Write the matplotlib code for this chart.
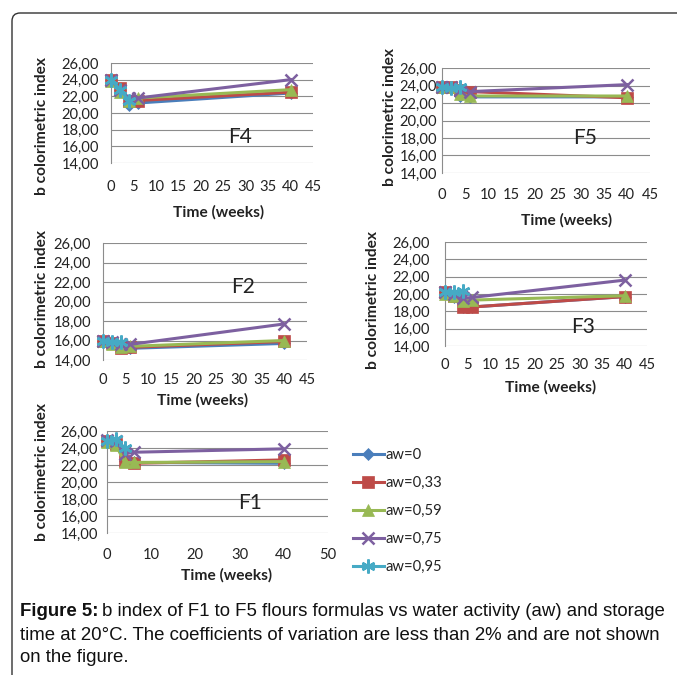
import matplotlib
matplotlib.use('Agg')
import matplotlib.pyplot as plt
from matplotlib.patches import FancyBboxPatch
from matplotlib.ticker import FuncFormatter, MultipleLocator

W, H = 677, 675

# storage time (weeks); aw=0,95 samples were only measured up to week 4
weeks = [0, 2, 4, 6, 40]
weeks_095 = [0, 2, 4]
aw_labels = ['aw=0', 'aw=0,33', 'aw=0,59', 'aw=0,75', 'aw=0,95']

f1_aw0 = [24.8, 24.6, 22.5, 22.3, 22.2]
f1_aw033 = [24.8, 24.5, 22.5, 22.2, 22.6]
f1_aw059 = [24.7, 24.4, 22.3, 22.3, 22.4]
f1_aw075 = [24.9, 24.8, 23.3, 23.5, 23.9]
f1_aw095 = [24.8, 25.1, 24.0]

f2_aw0 = [16.0, 15.7, 15.3, 15.2, 15.7]
f2_aw033 = [16.0, 15.7, 15.2, 15.3, 15.9]
f2_aw059 = [15.9, 15.6, 15.3, 15.4, 16.0]
f2_aw075 = [16.0, 15.8, 15.6, 15.6, 17.7]
f2_aw095 = [16.0, 15.8, 15.8]

f3_aw0 = [20.2, 19.6, 18.5, 18.5, 19.7]
f3_aw033 = [20.2, 19.8, 18.5, 18.5, 19.7]
f3_aw059 = [20.0, 19.8, 19.2, 19.3, 19.8]
f3_aw075 = [20.2, 20.0, 19.5, 19.6, 21.6]
f3_aw095 = [20.2, 20.2, 20.4]

f4_aw0 = [24.0, 22.8, 21.0, 21.2, 22.4]
f4_aw033 = [24.0, 23.0, 21.5, 21.5, 22.5]
f4_aw059 = [23.8, 22.5, 21.5, 21.8, 22.8]
f4_aw075 = [24.0, 22.8, 21.8, 21.8, 24.0]
f4_aw095 = [24.0, 22.8, 21.5]

f5_aw0 = [23.8, 23.8, 22.8, 22.7, 22.7]
f5_aw033 = [23.8, 23.8, 23.5, 23.3, 22.6]
f5_aw059 = [23.8, 23.8, 23.0, 22.8, 22.8]
f5_aw075 = [23.8, 23.8, 23.5, 23.3, 24.1]
f5_aw095 = [23.8, 23.7, 23.8]

colors = ['#4A7EBB', '#BE4B48', '#98B954', '#7D60A0', '#46AAC5']
markers = ['D', 's', '^', 'x', (6, 2, 0)]
msizes = [6, 8, 9, 9, 10]

plt.rcParams['font.family'] = 'Lato'

fig = plt.figure(figsize=(W / 100, H / 100), dpi=100)


def px_box(l, r, t, b):
    return [l / W, 1 - b / H, (r - l) / W, (b - t) / H]


def ftext(x, y, s, **kw):
    return fig.text(x / W, 1 - y / H, s, **kw)


comma = FuncFormatter(lambda v, p: ('%.2f' % v).replace('.', ','))
TICK_FS = 10.6
LAB_FS = 11.2


def panel(box, series, name, name_xy, xmax, xstep, xpad, ypad, xlab_xy, ylab_xy):
    ax = fig.add_axes(px_box(*box))
    for i, ys in enumerate(series):
        xs = weeks_095 if i == 4 else weeks
        ax.plot(xs, ys, color=colors[i], lw=2.2, marker=markers[i],
                ms=msizes[i], mew=1.8 if i >= 3 else 0.5, mec=colors[i],
                clip_on=False, zorder=3 + i, label=aw_labels[i])
    ax.set_xlim(0, xmax)
    ax.set_ylim(14, 26)
    ax.xaxis.set_major_locator(MultipleLocator(xstep))
    ax.yaxis.set_major_locator(MultipleLocator(2))
    ax.yaxis.set_major_formatter(comma)
    ax.grid(axis='y', color='#8c8c8c', lw=0.8)
    ax.set_axisbelow(True)
    for s in ['top', 'right', 'bottom']:
        ax.spines[s].set_visible(False)
    ax.spines['left'].set_color('#8c8c8c')
    ax.spines['left'].set_linewidth(0.8)
    ax.tick_params(axis='x', length=0, pad=xpad * 0.72, labelsize=TICK_FS, colors='#222222')
    ax.tick_params(axis='y', length=0, pad=ypad * 0.72, labelsize=TICK_FS, colors='#222222')
    ax.patch.set_alpha(0)
    ftext(name_xy[0], name_xy[1], name, fontsize=15, ha='center', va='center', color='#222222')
    ftext(xlab_xy[0], xlab_xy[1], 'Time (weeks)', fontsize=LAB_FS, weight='bold',
          ha='center', va='center', color='#222222')
    ftext(ylab_xy[0], ylab_xy[1], 'b colorimetric index', fontsize=LAB_FS, weight='bold',
          rotation=90, ha='center', va='center', color='#222222')
    return ax


panel((111, 313, 63, 163), [f4_aw0, f4_aw033, f4_aw059, f4_aw075, f4_aw095],
      'F4', (240, 137), 45, 5, 17, 12, (219, 212), (42, 126))
panel((442, 650, 68, 173), [f5_aw0, f5_aw033, f5_aw059, f5_aw075, f5_aw095],
      'F5', (585, 138), 45, 5, 15, 5, (567, 220), (390, 117))
panel((103, 307, 243, 360), [f2_aw0, f2_aw033, f2_aw059, f2_aw075, f2_aw095],
      'F2', (243, 287), 45, 5, 13, 12, (203, 400), (42, 299))
panel((445, 647, 242, 346), [f3_aw0, f3_aw033, f3_aw059, f3_aw075, f3_aw095],
      'F3', (583, 327), 45, 5, 12, 15, (551, 387), (373, 300))
ax1 = panel((107, 328, 431, 533), [f1_aw0, f1_aw033, f1_aw059, f1_aw075, f1_aw095],
            'F1', (250, 503), 50, 10, 15, 9, (227, 575), (42, 472))

handles, labs = ax1.get_legend_handles_labels()
fig.legend(handles, labs, loc='upper left', bbox_to_anchor=(353 / W, 1 - 448 / H),
           frameon=False, fontsize=TICK_FS, handlelength=2.1, handletextpad=0.1,
           labelspacing=0.95, borderpad=0, borderaxespad=0, markerscale=1.0,
           labelcolor='#222222')

# figure frame with the rounded top-left corner
frame = FancyBboxPatch((12 / W, -0.1), 1.2, (675 - 13) / H + 0.1,
                       boxstyle='round,pad=0,rounding_size=0.012',
                       transform=fig.transFigure, fill=False, ec='#333333', lw=1.0)
fig.patches.append(frame)

cap_kw = dict(fontsize=13.4, family='Liberation Sans', va='center', color='#111111')
t0 = ftext(20, 612, 'Figure 5:', weight='bold', **cap_kw)
fig.canvas.draw()
bb = t0.get_window_extent()
ftext(bb.x1 + 4, 612, 'b index of F1 to F5 flours formulas vs water activity (aw) and storage', **cap_kw)
ftext(20, 635, 'time at 20\u00b0C. The coefficients of variation are less than 2% and are not shown', **cap_kw)
ftext(20, 657, 'on the figure.', **cap_kw)

fig.savefig('out.png', dpi=100)
